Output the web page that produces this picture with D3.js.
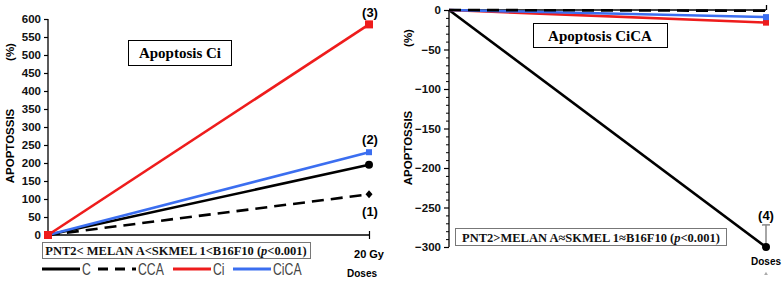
<!DOCTYPE html>
<html><head><meta charset="utf-8">
<script src="https://cdn.jsdelivr.net/npm/d3@7"></script>
<style>body{margin:0;background:#fff}svg{display:block}</style>
</head><body>
<svg id="c" width="783" height="283"></svg>
<script>
const doses = [0, 1];
const doseLabels = ["", "20 Gy"];
const seriesNames = ["C", "CCA", "Ci", "CiCA"];
const seriesColors = ["#000000", "#000000", "#ee1c1c", "#3b6ef0"];
const seriesDash = ["", "12,7", "", ""];
const ciC = [0, 195];
const ciCCA = [0, 113];
const ciCi = [0, 585];
const ciCiCA = [0, 230];
const cicaC = [0, -300];
const cicaCCA = [0, -1];
const cicaCi = [0, -16];
const cicaCiCA = [0, -9];
const cicaCError = [0, 28];
const ciTicks = [0,50,100,150,200,250,300,350,400,450,500,550,600];
const cicaTicks = [0,-50,-100,-150,-200,-250,-300];

const svg = d3.select("#c");
const boldSans = "'Liberation Sans', Arial, sans-serif";
const serif = "'Liberation Serif', 'Times New Roman', serif";

function markers(g, kind, x, y, color) {
  if (kind === "circle") g.append("circle").attr("cx", x).attr("cy", y).attr("r", 4).attr("fill", color);
  else if (kind === "square") g.append("rect").attr("x", x-4).attr("y", y-4).attr("width", 8).attr("height", 8).attr("fill", color);
  else if (kind === "smallsq") g.append("rect").attr("x", x-3).attr("y", y-3).attr("width", 6).attr("height", 6).attr("fill", color);
  else if (kind === "diamond") g.append("path").attr("d", "M0,-4L3.5,0L0,4L-3.5,0Z").attr("transform", `translate(${x},${y})`).attr("fill", color);
}

// ---------- LEFT CHART ----------
{
  const x = d3.scaleLinear().domain([0, 1]).range([48, 369]);
  const y = d3.scaleLinear().domain([0, 600]).range([235, 19]);
  const g = svg.append("g");
  const ax = g.append("g").attr("transform", "translate(48,0)")
    .call(d3.axisLeft(y).tickValues(ciTicks).tickSize(4).tickPadding(3).tickFormat(d3.format("d")));
  ax.select(".domain").attr("stroke", "#000").attr("stroke-width", 1.3).attr("d", "M0,19V235");
  ax.selectAll("text").attr("font-family", boldSans).attr("font-weight", "bold").attr("font-size", 11.5).attr("fill", "#111");
  ax.selectAll("line").attr("stroke-width", 1.2);
  const xa = g.append("g").attr("transform", "translate(0,235)")
    .call(d3.axisBottom(x).tickValues([1]).tickSize(4).tickFormat(""));
  xa.select(".domain").attr("stroke-width", 1.3).attr("d", "M48,0H369");
  xa.selectAll(".tick line").attr("y1", -4).attr("y2", 4).attr("stroke-width", 1.2);
  g.append("text").attr("x", x(1)).attr("y", 258).attr("text-anchor", "middle")
    .attr("font-family", boldSans).attr("font-weight", "bold").attr("font-size", 11).text(doseLabels[1]);
  g.append("text").attr("x", 362).attr("y", 277).attr("text-anchor", "middle")
    .attr("font-family", boldSans).attr("font-weight", "bold").attr("font-size", 10).text("Doses");
  g.append("text").attr("transform", "translate(14,146) rotate(-90)").attr("text-anchor", "middle")
    .attr("font-family", boldSans).attr("font-weight", "bold").attr("font-size", 11.5).text("APOPTOSSIS");
  g.append("text").attr("transform", "translate(14,52) rotate(-90)").attr("text-anchor", "middle")
    .attr("font-family", boldSans).attr("font-weight", "bold").attr("font-size", 11.5).text("(%)");

  const data = [ciC, ciCCA, ciCi, ciCiCA];
  const order = [1, 0, 3, 2];
  const line = d3.line().x((d, i) => x(doses[i])).y(d => y(d));
  order.forEach(k => {
    g.append("path").datum(data[k]).attr("d", line).attr("fill", "none")
      .attr("stroke", seriesColors[k]).attr("stroke-width", 2.6).attr("stroke-dasharray", seriesDash[k] || null);
  });
  markers(g, "diamond", x(1), y(ciCCA[1]), "#000");
  markers(g, "circle", x(1), y(ciC[1]), "#000");
  markers(g, "smallsq", x(1), y(ciCiCA[1]), seriesColors[3]);
  markers(g, "square", x(1), y(ciCi[1]), seriesColors[2]);
  markers(g, "square", x(0), y(0), seriesColors[2]);

  const lbl = (t, yy) => g.append("text").attr("x", 370).attr("y", yy).attr("text-anchor", "middle")
    .attr("font-family", boldSans).attr("font-weight", "bold").attr("font-size", 13).text(t);
  lbl("(3)", y(ciCi[1]) - 7);
  lbl("(2)", y(ciCiCA[1]) - 8);
  lbl("(1)", y(ciCCA[1]) + 22);

  g.append("rect").attr("x", 128.5).attr("y", 40.5).attr("width", 103).attr("height", 25).attr("fill", "#fff").attr("stroke", "#000").attr("stroke-width", 1);
  g.append("text").attr("x", 180).attr("y", 58).attr("text-anchor", "middle")
    .attr("font-family", serif).attr("font-weight", "bold").attr("font-size", 15).text("Apoptosis Ci");

  g.append("rect").attr("x", 42.5).attr("y", 242.5).attr("width", 268).attr("height", 16).attr("fill", "#fff").attr("stroke", "#777").attr("stroke-width", 1);
  const t = g.append("text").attr("x", 176).attr("y", 255).attr("text-anchor", "middle")
    .attr("font-family", serif).attr("font-weight", "bold").attr("font-size", 12.5).attr("fill", "#111");
  t.append("tspan").text("PNT2< MELAN A<SKMEL 1<B16F10 (");
  t.append("tspan").attr("font-style", "italic").text("p");
  t.append("tspan").text("<0.001)");

  // legend
  const legX = [42, 98, 173, 233];
  seriesNames.forEach((n, k) => {
    g.append("line").attr("x1", legX[k]).attr("x2", legX[k] + 38).attr("y1", 269).attr("y2", 269)
      .attr("stroke", seriesColors[k]).attr("stroke-width", 3).attr("stroke-dasharray", k === 1 ? "10,7" : null);
    g.append("text").attr("transform", `translate(${legX[k] + 40},275) scale(0.72,1)`)
      .attr("font-family", "'Liberation Sans',Arial,sans-serif")
      .attr("font-size", 17).attr("fill", "#444").text(n);
  });
}

// ---------- RIGHT CHART ----------
{
  const x = d3.scaleLinear().domain([0, 1]).range([449, 766]);
  const y = d3.scaleLinear().domain([-300, 0]).range([247, 10]);
  const g = svg.append("g");
  const ax = g.append("g").attr("transform", "translate(449,0)")
    .call(d3.axisLeft(y).tickValues(cicaTicks).tickSize(5).tickPadding(3).tickFormat(d => d === 0 ? "0" : "\u2212" + Math.abs(d)));
  ax.select(".domain").attr("stroke-width", 1.3).attr("d", "M0,10V247");
  ax.selectAll("text").attr("font-family", boldSans).attr("font-weight", "bold").attr("font-size", 11.5).attr("fill", "#111");
  ax.selectAll("line").attr("stroke-width", 1.2);
  const minor = g.append("g").attr("transform", "translate(449,0)")
    .call(d3.axisLeft(y).tickValues(d3.range(-290, 0, 10).filter(v => v % 50 !== 0)).tickSize(3).tickFormat(""));
  minor.select(".domain").remove();

  const xa = g.append("g").attr("transform", "translate(0,10)")
    .call(d3.axisTop(x).tickValues([1]).tickSize(5).tickFormat(""));
  xa.select(".domain").attr("stroke-width", 1.3).attr("d", "M449,0H766");
  xa.selectAll(".tick line").attr("stroke-width", 1.3);

  g.append("text").attr("transform", "translate(412,148) rotate(-90)").attr("text-anchor", "middle")
    .attr("font-family", boldSans).attr("font-weight", "bold").attr("font-size", 11.5).text("APOPTOSSIS");
  g.append("text").attr("transform", "translate(412,38) rotate(-90)").attr("text-anchor", "middle")
    .attr("font-family", boldSans).attr("font-weight", "bold").attr("font-size", 11.5).text("(%)");

  const data = [cicaC, cicaCCA, cicaCi, cicaCiCA];
  const line = d3.line().x((d, i) => x(doses[i])).y(d => y(d));
  [0, 2, 3, 1].forEach(k => {
    g.append("path").datum(data[k]).attr("d", line).attr("fill", "none")
      .attr("stroke", seriesColors[k]).attr("stroke-width", 2.6).attr("stroke-dasharray", seriesDash[k] || null);
  });
  // error bar
  const ex = x(1), ey0 = y(cicaC[1]), ey1 = y(cicaC[1] + cicaCError[1]);
  g.append("line").attr("x1", ex).attr("x2", ex).attr("y1", ey0).attr("y2", ey1).attr("stroke", "#888").attr("stroke-width", 1.5);
  g.append("line").attr("x1", ex - 4).attr("x2", ex + 4).attr("y1", ey1).attr("y2", ey1).attr("stroke", "#888").attr("stroke-width", 1.5);
  markers(g, "circle", ex, ey0, "#000");
  markers(g, "smallsq", ex, y(cicaCi[1]), seriesColors[2]);
  markers(g, "smallsq", ex, y(cicaCiCA[1]), seriesColors[3]);

  g.append("text").attr("x", ex).attr("y", ey1 - 5).attr("text-anchor", "middle")
    .attr("font-family", boldSans).attr("font-weight", "bold").attr("font-size", 13).text("(4)");
  g.append("text").attr("x", ex).attr("y", 265).attr("text-anchor", "middle")
    .attr("font-family", boldSans).attr("font-weight", "bold").attr("font-size", 10).text("Doses");
  g.append("path").attr("d", d3.symbol(d3.symbolTriangle, 6)()).attr("transform", `translate(${ex},274)`).attr("fill", "#aaa");

  g.append("rect").attr("x", 533.5).attr("y", 23.5).attr("width", 134).attr("height", 24).attr("fill", "#fff").attr("stroke", "#000").attr("stroke-width", 1);
  g.append("text").attr("x", 600).attr("y", 41).attr("text-anchor", "middle")
    .attr("font-family", serif).attr("font-weight", "bold").attr("font-size", 15).text("Apoptosis CiCA");

  g.append("rect").attr("x", 455.5).attr("y", 228.5).attr("width", 271).attr("height", 17).attr("fill", "#fff").attr("stroke", "#777").attr("stroke-width", 1);
  const t = g.append("text").attr("x", 591).attr("y", 242).attr("text-anchor", "middle")
    .attr("font-family", serif).attr("font-weight", "bold").attr("font-size", 12.5).attr("fill", "#111");
  t.append("tspan").text("PNT2>MELAN A\u2248SKMEL 1\u2248B16F10 (");
  t.append("tspan").attr("font-style", "italic").text("p");
  t.append("tspan").text("<0.001)");
}
</script>
</body></html>
